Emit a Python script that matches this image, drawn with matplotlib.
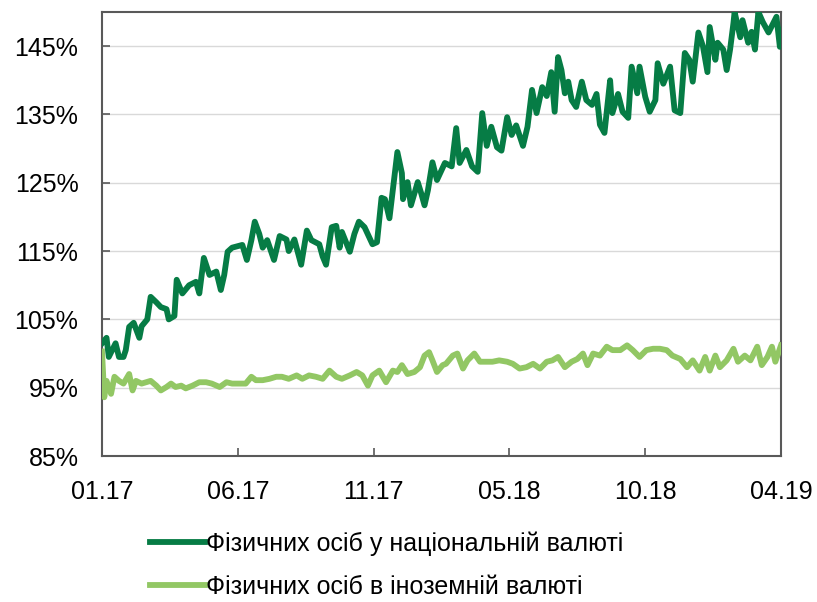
import numpy as np
import matplotlib
matplotlib.use("Agg")
import matplotlib.pyplot as plt

plt.rcParams['font.family'] = ['Liberation Sans', 'DejaVu Sans']

# trading-day index (0 = start of 01.17, 600 = end of 04.19) and level, %
nat_day = [0, 4, 6, 12, 15, 19, 21, 24, 28, 33, 35, 40, 43, 48, 52, 57, 59, 64, 66, 71,
           77, 83, 86, 90, 95, 101, 105, 108, 111, 115, 124, 128, 132, 135, 139, 142, 146, 152, 157, 163,
           165, 170, 176, 181, 185, 192, 195, 198, 203, 207, 210, 212, 219, 223, 227, 232, 239, 243, 247, 250,
           254, 258, 261, 265, 266, 270, 273, 279, 282, 285, 288, 292, 296, 303, 309, 313, 316, 322, 327, 332,
           336, 340, 344, 349, 353, 358, 362, 366, 372, 376, 380, 384, 389, 393, 397, 400, 403, 406, 409, 412,
           415, 419, 424, 428, 433, 437, 440, 444, 449, 451, 456, 460, 465, 468, 473, 475, 480, 484, 489, 491,
           496, 502, 506, 511, 515, 519, 522, 527, 531, 535, 537, 542, 544, 549, 552, 555, 558, 559, 564, 566,
           571, 574, 577, 580, 584, 589, 592, 596, 599, 600]
nat_val = [101.5, 102.3, 99.5, 101.5, 99.5, 99.5, 100.5, 103.9, 104.5, 102.3, 104.0, 105.0, 108.3, 107.5, 106.8, 106.5, 105.0, 105.5, 110.8, 108.8,
           110.0, 110.5, 108.8, 114.0, 111.5, 112.0, 109.3, 111.5, 114.9, 115.5, 115.9, 113.7, 116.6, 119.3, 117.5, 115.5, 116.6, 113.7, 117.2, 116.7,
           115.0, 116.7, 113.0, 118.0, 116.6, 116.0, 114.2, 113.0, 118.5, 118.7, 115.5, 117.8, 114.9, 117.5, 119.3, 118.5, 116.0, 116.3, 122.8, 122.6,
           119.8, 125.4, 129.5, 126.4, 122.6, 125.1, 121.7, 125.1, 123.5, 121.7, 123.9, 128.0, 125.4, 127.9, 127.4, 133.0, 127.9, 129.8, 127.4, 126.6,
           135.2, 130.4, 133.2, 130.2, 129.7, 134.6, 132.0, 133.4, 130.4, 133.2, 138.6, 135.2, 139.0, 137.7, 141.2, 135.4, 143.4, 141.5, 138.1, 139.8,
           137.1, 136.1, 139.8, 137.1, 136.4, 138.0, 133.5, 132.3, 140.0, 135.2, 138.0, 135.4, 134.5, 142.0, 138.1, 142.0, 137.6, 135.4, 137.1, 142.5,
           139.5, 142.0, 135.6, 135.2, 144.0, 143.0, 139.8, 147.0, 145.0, 141.2, 147.8, 143.0, 145.5, 144.5, 141.5, 144.5, 148.4, 150.0, 146.3, 148.8,
           145.5, 147.1, 144.5, 150.0, 148.5, 147.0, 148.0, 149.3, 144.9, 147.4]

fx_day = [0, 2, 4, 8, 11, 15, 19, 24, 27, 30, 35, 39, 43, 48, 52, 57, 61, 65, 70, 74,
          80, 86, 92, 97, 104, 110, 115, 121, 127, 132, 136, 142, 148, 154, 159, 165, 172, 177, 183, 189,
          195, 201, 207, 212, 219, 225, 230, 235, 239, 245, 251, 257, 261, 265, 270, 276, 281, 285, 289, 292,
          296, 301, 304, 310, 314, 319, 323, 329, 334, 340, 345, 351, 358, 363, 369, 375, 381, 387, 393, 398,
          403, 409, 415, 420, 425, 429, 434, 440, 446, 451, 458, 464, 469, 475, 481, 487, 493, 499, 504, 511,
          517, 522, 528, 533, 537, 542, 546, 552, 558, 562, 568, 573, 579, 583, 588, 592, 595, 600]
fx_val = [100.3, 93.6, 96.0, 94.1, 96.6, 96.0, 95.6, 97.0, 94.6, 96.0, 95.6, 95.8, 96.0, 95.3, 94.6, 95.1, 95.6, 95.1, 95.3, 94.9,
          95.3, 95.8, 95.8, 95.6, 95.1, 95.8, 95.6, 95.6, 95.6, 96.6, 96.1, 96.1, 96.3, 96.6, 96.6, 96.3, 96.8, 96.3, 96.8, 96.6,
          96.3, 97.5, 96.6, 96.3, 96.8, 97.3, 96.8, 95.3, 96.8, 97.5, 95.8, 97.5, 97.3, 98.3, 97.0, 97.3, 98.0, 99.7, 100.2, 99.0,
          97.3, 98.3, 98.5, 99.7, 100.0, 97.8, 99.0, 100.0, 98.8, 98.8, 98.8, 99.0, 98.8, 98.5, 97.8, 98.0, 98.5, 97.8, 98.8, 99.0,
          99.5, 98.0, 98.8, 99.2, 100.0, 98.3, 100.0, 99.7, 101.0, 100.5, 100.5, 101.2, 100.5, 99.5, 100.5, 100.7, 100.7, 100.5, 99.7, 99.2,
          98.0, 99.0, 97.5, 99.5, 97.5, 99.7, 98.0, 99.0, 100.7, 98.8, 99.7, 99.0, 101.0, 98.3, 99.5, 101.0, 98.8, 101.2]

tick_pos = [0, 120, 240, 360, 480, 600]
tick_lab = ['01.17', '06.17', '11.17', '05.18', '10.18', '04.19']
y_ticks = [85, 95, 105, 115, 125, 135, 145]

nat_name = 'Фізичних осіб у національній валюті'
fx_name = 'Фізичних осіб в іноземній валюті'

fig = plt.figure(figsize=(8.17, 6.02), dpi=100)
ax = fig.add_axes([102 / 817, 1 - 456 / 602, (781 - 102) / 817, (456 - 12) / 602])

ax.plot(nat_day, nat_val, color='#067C45', lw=4.2, solid_joinstyle='round', label=nat_name, zorder=3)
ax.plot(fx_day, fx_val, color='#92C764', lw=4.2, solid_joinstyle='round', label=fx_name, zorder=4)

ax.set_xlim(0, 600)
ax.set_ylim(85, 150)
ax.set_xticks(tick_pos)
ax.set_xticklabels(tick_lab)
ax.set_yticks(y_ticks)
ax.set_yticklabels([f'{v}%' for v in y_ticks])
for v in y_ticks[1:]:
    ax.axhline(v, color='#D9D9D9', lw=1.0, zorder=1)

for s in ax.spines.values():
    s.set_color('#595959')
    s.set_linewidth(1.5)
ax.tick_params(axis='both', direction='in', length=6, width=1.2, color='#595959',
               labelsize=18, labelcolor='black')
ax.tick_params(axis='x', pad=17)
ax.tick_params(axis='y', pad=17)

fig.legend(loc='upper left', bbox_to_anchor=(150 / 817, 1 - 531 / 602), frameon=False,
           fontsize=18, handlelength=2.2, handletextpad=0.05, labelspacing=0.78,
           borderpad=0, borderaxespad=0)

fig.savefig('out.png', dpi=100)
